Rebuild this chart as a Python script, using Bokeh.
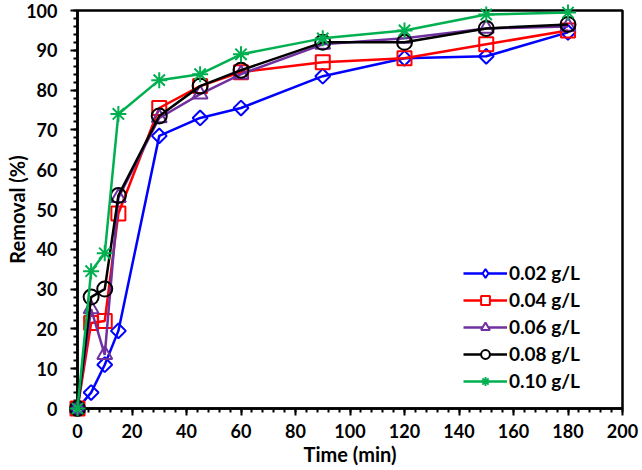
import numpy as np
from bokeh.plotting import figure
from bokeh.models import Range1d, SingleIntervalTicker, Legend, LegendItem
from bokeh.embed import file_html
from bokeh.resources import INLINE

time_min = [0, 5, 10, 15, 30, 45, 60, 90, 120, 150, 180]
labels = ["0.02 g/L", "0.04 g/L", "0.06 g/L", "0.08 g/L", "0.10 g/L"]
s002 = [0, 4, 11, 19.5, 68.5, 73, 75.5, 83.5, 88, 88.5, 94.5]
s004 = [0, 21.5, 22, 49, 75.5, 81, 84.5, 87, 88, 91.5, 95]
s006 = [0, 25, 13.5, 53, 73, 79, 84, 91.5, 93, 95.5, 96]
s008 = [0, 28, 30, 53.5, 73.5, 81, 85, 92, 92, 95.5, 96.5]
s010 = [0, 34.5, 39, 74, 82.5, 84, 89, 93, 95, 99, 99.5]

series = [s002, s004, s006, s008, s010]
colors = ["#0000FF", "#FF0000", "#7030A0", "#000000", "#00B050"]
markers = ["square", "square", "triangle", "circle", "asterisk"]
sizes = [10.5, 14, 15, 15, 16]
angles = [np.pi / 4, 0, 0, 0, 0]
leg_markers = ["diamond", "square", "triangle", "circle", "asterisk"]
leg_sizes = [14, 11, 12, 11, 13]

FONT = "Lato"

p = figure(width=640, height=468, output_backend="svg", toolbar_location=None,
           x_range=Range1d(0, 200), y_range=Range1d(0, 100),
           min_border_left=77, min_border_right=18, min_border_top=10, min_border_bottom=60)
p.xgrid.visible = False
p.ygrid.visible = False
p.outline_line_color = "black"
p.outline_line_width = 2.5
p.outline_line_alpha = 1

items = []
for s, c, m, sz, a, lab, lm, ls in zip(series, colors, markers, sizes, angles, labels,
                                       leg_markers, leg_sizes):
    lr = p.line(time_min, s, line_color=c, line_width=2.5, level="overlay")
    p.scatter(time_min, s, marker=m, size=sz, angle=a, line_color=c, line_width=2,
              fill_color=None, level="overlay")
    legmark = p.scatter(time_min, s, marker=lm, size=ls, line_color=c, line_width=2,
                        fill_color="white", visible=False)
    items.append(LegendItem(label=lab, renderers=[lr, legmark]))

for ax, step in ((p.xaxis, 20), (p.yaxis, 10)):
    ax.ticker = SingleIntervalTicker(interval=step, num_minor_ticks=5)
    ax.axis_line_width = 2.5
    ax.axis_line_color = "black"
    ax.major_tick_line_width = 2
    ax.minor_tick_line_width = 2
    ax.major_tick_line_color = "black"
    ax.minor_tick_line_color = "black"
    ax.major_tick_in = 0
    ax.major_tick_out = 7
    ax.minor_tick_in = 0
    ax.minor_tick_out = 4
    ax.major_label_text_font = FONT
    ax.major_label_text_font_style = "bold"
    ax.major_label_text_font_size = "18px"
    ax.major_label_text_color = "black"
    ax.axis_label_text_font = FONT
    ax.axis_label_text_font_style = "bold"
    ax.axis_label_text_font_size = "20px"
    ax.axis_label_text_color = "black"

p.xaxis.axis_label = "Time (min)"
p.yaxis.axis_label = "Removal (%)"
p.xaxis.major_label_standoff = 8
p.yaxis.major_label_standoff = 13
p.xaxis.axis_label_standoff = 1
p.yaxis.axis_label_standoff = -6

lg = Legend(items=items, location=(386, 16))
lg.border_line_alpha = 0
lg.background_fill_alpha = 0
lg.padding = 0
lg.margin = 0
lg.spacing = 4
lg.glyph_width = 44
lg.glyph_height = 22
lg.label_height = 22
lg.label_standoff = 2
lg.label_text_font = FONT
lg.label_text_font_style = "bold"
lg.label_text_font_size = "19px"
lg.label_text_color = "black"
p.add_layout(lg, "center")

open("out.html", "w").write(file_html(p, INLINE))
